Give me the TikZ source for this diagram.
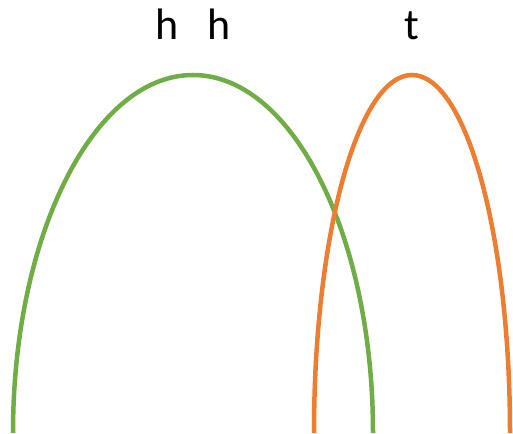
\documentclass[tikz,border=0pt]{standalone}
\usepackage{fontspec}
\setmainfont{Carlito}
\definecolor{arcgreen}{HTML}{70AD47}
\definecolor{arcorange}{HTML}{ED7D31}
\begin{document}
\begin{tikzpicture}[x=1pt,y=-1pt,
  lbl/.style={anchor=base,inner sep=0pt,font=\fontsize{44}{44}\selectfont},
  arcline/.style={line width=4.5pt}]
\useasboundingbox (0,0) rectangle (513,433);
\node[lbl] (h1) at (167,40) {h};
\node[lbl] (h2) at (219,40) {h};
\node[lbl] (t) at (412,40) {t};
\coordinate (gs) at (13,433);
\coordinate (os) at (314,433);
\draw[arcline,arcgreen] (gs) arc[start angle=180,end angle=0,x radius=180,y radius=-358];
\draw[arcline,arcorange] (os) arc[start angle=180,end angle=0,x radius=98,y radius=-358];
\end{tikzpicture}
\end{document}
